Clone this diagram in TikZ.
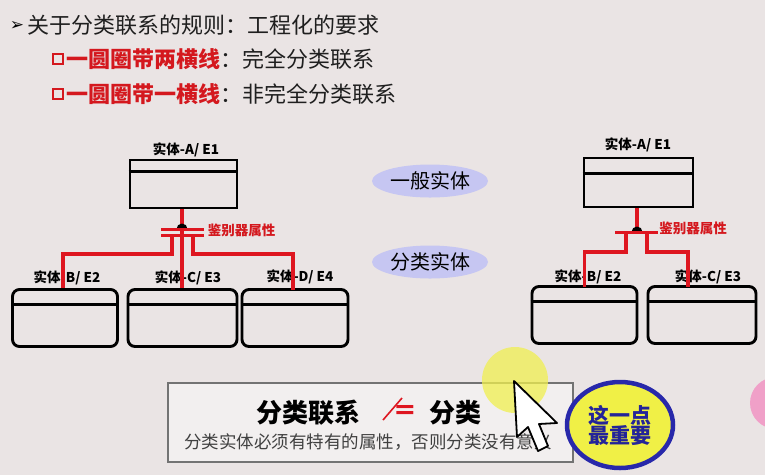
\documentclass[tikz,border=0pt]{standalone}
\usepackage{fontspec}
\setmainfont{Noto Sans CJK SC}
\newfontfamily\symfont{DejaVu Sans}
\usetikzlibrary{calc,shapes.geometric}
\definecolor{bg}{RGB}{234,228,228}
\definecolor{relred}{RGB}{222,22,32}
\definecolor{txtred}{RGB}{212,24,30}
\definecolor{lav}{RGB}{198,198,242}
\definecolor{markblue}{RGB}{40,40,170}
\definecolor{markyellow}{RGB}{240,240,70}
\definecolor{hilite}{RGB}{240,240,80}
\definecolor{pinkdot}{RGB}{240,160,200}
\newcommand{\fs}[1]{\fontsize{#1}{#1}\selectfont}
\begin{document}
\begin{tikzpicture}[x=1pt,y=-1pt,
  ent/.style={draw=black, line width=2.9pt, minimum width=107pt, minimum height=48pt, inner sep=0pt},
  subent/.style={ent, rounded corners=7pt, minimum width=105pt, minimum height=57pt},
  divider/.style={line width=2.9pt},
  elab/.style={font=\fs{13.5}\bfseries, inner sep=0pt},
  dlab/.style={font=\fs{13.5}\bfseries, text=txtred, inner sep=0pt},
  rel/.style={draw=relred, line width=3.2pt},
  bar/.style={draw=relred, line width=3pt},
  oval/.style={ellipse, fill=lav, minimum width=116pt, minimum height=33pt, inner sep=0pt, font=\fs{20}},
  head/.style={anchor=west, inner sep=0pt, font=\fs{22}, text=black!88},
  redhead/.style={anchor=west, inner sep=0pt, font=\fs{22}\bfseries, text=txtred},
  bullet/.style={draw=txtred, line width=2.2pt, minimum size=10pt, inner sep=0pt}
]
\useasboundingbox (0,0) rectangle (765,475);
\fill[bg] (0,0) rectangle (765,475);

% heading and the two rules
\node[inner sep=0pt, font=\symfont\fs{17}] (arrow) at (17,26) {➢};
\node[head] (title) at (27,25) {关于分类联系的规则：工程化的要求};
\node[bullet] (sq1) at (58,59) {};
\node[redhead] (r1) at (66,59) {一圆圈带两横线};
\node[head] (r1b) at (r1.east) {：完全分类联系};
\node[bullet] (sq2) at (58,94) {};
\node[redhead] (r2) at (66,94) {一圆圈带一横线};
\node[head] (r2b) at (r2.east) {：非完全分类联系};

% ---------- complete categorization (left) ----------
\node[ent] (A) at (183.5,184) {};
\draw[divider] ($(A.north west)+(0,13)$) -- ($(A.north east)+(0,13)$);
\node[elab] (Alab) at (186,150) {实体-A/ E1};

\node[subent] (B) at (65,318) {};
\node[subent, minimum width=109pt] (C) at (182.5,318) {};
\node[subent, minimum width=106pt] (D) at (295,318) {};
\foreach \e in {B,C,D}
  \draw[divider] ($(\e.north west)+(0,16)$) -- ($(\e.north east)+(0,16)$);
\node[elab] (Blab) at (67,278) {实体-B/ E2};
\node[elab] (Clab) at (188,278) {实体-C/ E3};
\node[elab] (Dlab) at (300,277) {实体-D/ E4};

\coordinate (disc) at (182,229);
\coordinate (jl) at (172,235);
\coordinate (jr) at (193,235);
\draw[rel] (A.south -| disc) -- (disc);
\fill[black] ($(disc)+(-5.5,0)$) arc (180:360:5.5) -- cycle;
\draw[bar] ($(disc)+(-21,0)$) -- ($(disc)+(22,0)$);
\draw[bar] ($(disc)+(-21,6.5)$) -- ($(disc)+(22,6.5)$);
\draw[rel] (disc) -- (C.north -| disc);
\draw[rel] (jl) -- ++(0,19) -| ([xshift=-2pt]B.north);
\draw[rel] (jr) -- ++(0,19) -| ([xshift=-2pt,yshift=-2pt]D.north);
\node[dlab] (dl) at (241.5,230) {鉴别器属性};

% ---------- generic / category ovals ----------
\node[oval] (gen) at (430,181) {一般实体};
\node[oval] (cat) at (430,262) {分类实体};

% ---------- incomplete categorization (right) ----------
\node[ent, minimum width=109pt, minimum height=49pt] (A2) at (638.5,182.5) {};
\draw[divider] ($(A2.north west)+(0,17)$) -- ($(A2.north east)+(0,17)$);
\node[elab] (A2lab) at (638,145) {实体-A/ E1};

\node[subent] (B2) at (584.5,315) {};
\node[subent, minimum width=108pt] (C2) at (702,315) {};
\foreach \e in {B2,C2}
  \draw[divider] ($(\e.north west)+(0,16)$) -- ($(\e.north east)+(0,16)$);
\node[elab] (B2lab) at (588,277) {实体-B/ E2};
\node[elab] (C2lab) at (708,277) {实体-C/ E3};

\coordinate (disc2) at (637,232);
\coordinate (kl) at (626,232);
\coordinate (kr) at (647,232);
\draw[rel] (A2.south -| disc2) -- (disc2);
\fill[black] ($(disc2)+(-5.5,0)$) arc (180:360:5.5) -- cycle;
\draw[bar] ($(disc2)+(-22,0)$) -- ($(disc2)+(21,0)$);
\draw[rel] (kl) -- ++(0,20) -| ([yshift=-2pt]B2.north);
\draw[rel] (kr) -- ++(0,20) -| ([xshift=-14pt,yshift=-2pt]C2.north);
\node[dlab] (dr) at (693,228) {鉴别器属性};

% ---------- note box ----------
\node[draw=black!55, line width=1.4pt, fill=white!40!bg, minimum width=405pt, minimum height=79pt, inner sep=0pt] (note) at (370.5,422.5) {};
\node[inner sep=0pt, font=\fs{26}\bfseries] (n1) at (308,413) {分类联系};
\node[inner sep=0pt, font=\symfont\fs{27}\bfseries, text=relred] (neq) at (405,412) {=};
\draw[relred, line width=1.6pt] (neq.center) ++(-22,8) -- ++(19,-22);
\node[inner sep=0pt, font=\fs{26}\bfseries] (n2) at (455,413) {分类};
\node[inner sep=0pt, font=\fs{17.5}, text=black!75] (n3) at (368,442) {分类实体必须有特有的属性，否则分类没有意义};

% pointer highlight and cursor
\fill[hilite, opacity=0.75] (515,380) circle (33);
\draw[black, line width=1.8pt, fill=white, line join=round]
  (514,381) -- (517,437) -- (528,427) -- (538,451) -- (548,446)
  -- (539,424) -- (557,423) -- cycle;

% emphasis badge
\node[ellipse, draw=markblue, line width=4.5pt, fill=markyellow, minimum width=106pt, minimum height=86pt,
      inner sep=0pt, align=center, font=\fs{21}\bfseries, text=markblue!90!black] (badge) at (620,425)
      {这一点\\[-1pt]最重要};

% decorative dot at the edge
\begin{scope}
  \clip (0,0) rectangle (765,475);
  \fill[pinkdot] (776,403) circle (26);
\end{scope}
\end{tikzpicture}
\end{document}
